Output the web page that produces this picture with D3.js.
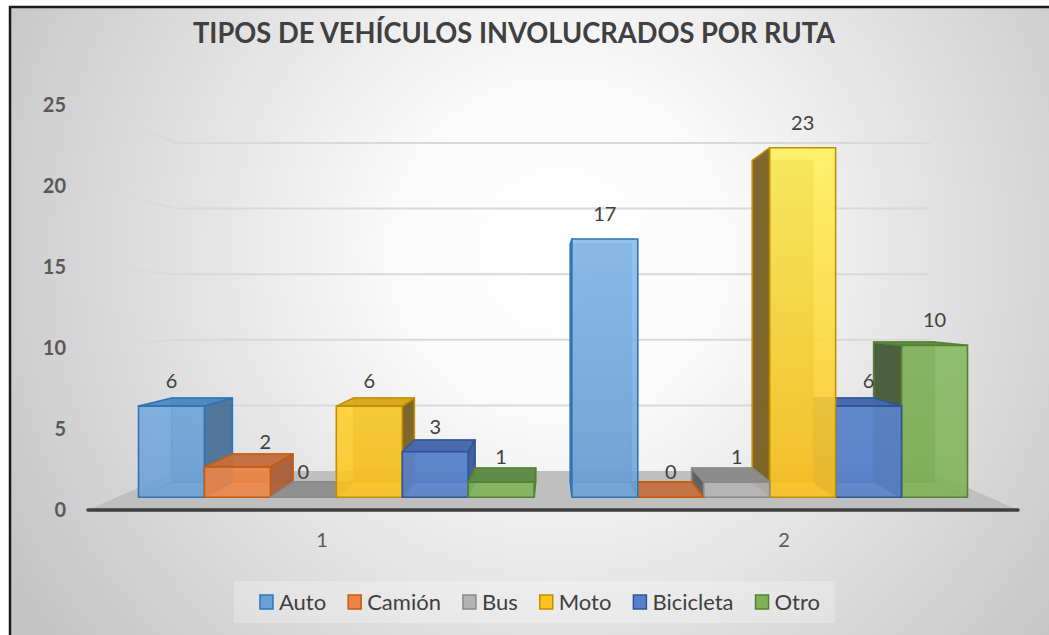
<!DOCTYPE html>
<html>
<head>
<meta charset="utf-8">
<script src="https://cdn.jsdelivr.net/npm/d3@7"></script>
<style>
  html, body { margin: 0; padding: 0; background: #ffffff; }
  svg { display: block; }
  text { font-family: Lato, "Open Sans", "Liberation Sans", sans-serif; }
</style>
</head>
<body>
<svg id="chart" width="1049" height="635"></svg>
<script>
// ---- data ----
const categories = ["1", "2"];
const series = ["Auto", "Camión", "Bus", "Moto", "Bicicleta", "Otro"];
const auto = [6, 17];
const camion = [2, 0];
const bus = [0, 1];
const moto = [6, 23];
const bicicleta = [3, 6];
const otro = [1, 10];
const yTicks = [0, 5, 10, 15, 20, 25];
const title = "TIPOS DE VEHÍCULOS INVOLUCRADOS POR RUTA";

const valuesBySeries = [auto, camion, bus, moto, bicicleta, otro];

// ---- styles per series ----
const styles = {
  "Auto":      { top: "#93c4f2", bottom: "#6aa0d6", stroke: "#2e75b6", side: "#4f7499", cap: "#4f86c0" },
  "Camión":    { top: "#f7a06a", bottom: "#ee8443", stroke: "#c55a11", side: "#a9603a", cap: "#c4703f" },
  "Bus":       { top: "#c2c2c2", bottom: "#b3b3b3", stroke: "#8a8a8a", side: "#5e5e5e", cap: "#8c8c8c" },
  "Moto":      { top: "#fff35c", bottom: "#fdc21d", stroke: "#c09000", side: "#7b6327", cap: "#d9a91a" },
  "Bicicleta": { top: "#6d96dc", bottom: "#5580cc", stroke: "#2f5597", side: "#3f5f97", cap: "#4668ad" },
  "Otro":      { top: "#90c26c", bottom: "#7fb255", stroke: "#548235", side: "#4a5d3a", cap: "#5f8d44" }
};
// label shifted sideways so it clears the neighbouring column
const labelNudge = { "Camión|1": 28 };

// ---- perspective setup ----
const W = 1049, H = 635;
const vx = 553, vy = 305;          // vanishing point
const sWall = 0.81;                // depth of back wall / floor back edge
const sFront = 0.938;              // depth of column fronts
const sBack = 0.863;               // depth of column backs

const svg = d3.select("#chart");

const y = d3.scaleLinear().domain([0, 25]).range([510, 105]);
const x0 = d3.scaleBand().domain(categories).range([88, 1018])
  .paddingInner(0.087).paddingOuter(0.05);
const x1 = d3.scaleBand().domain(series).range([0, x0.bandwidth()]);

function proj(xf, yf, s) {
  return [vx + (xf - vx) * s, vy + (yf - vy) * s];
}

// ---- defs ----
const defs = svg.append("defs");
const bg = defs.append("radialGradient").attr("id", "bg")
  .attr("gradientUnits", "userSpaceOnUse")
  .attr("cx", 560).attr("cy", 250).attr("r", 640);
bg.append("stop").attr("offset", "0%").attr("stop-color", "#ffffff");
bg.append("stop").attr("offset", "25%").attr("stop-color", "#fbfbfb");
bg.append("stop").attr("offset", "100%").attr("stop-color", "#c4c4c4");

const sideFade = defs.append("linearGradient").attr("id", "sideFade")
  .attr("gradientUnits", "userSpaceOnUse").attr("x1", 88).attr("x2", 178).attr("y1", 0).attr("y2", 0);
sideFade.append("stop").attr("offset", "0%").attr("stop-color", "#d9d9d9").attr("stop-opacity", 0.25);
sideFade.append("stop").attr("offset", "100%").attr("stop-color", "#d9d9d9").attr("stop-opacity", 1);

series.forEach((s, i) => {
  const g = defs.append("linearGradient").attr("id", "grad" + i)
    .attr("gradientUnits", "userSpaceOnUse")
    .attr("x1", 0).attr("x2", 0).attr("y1", 140).attr("y2", 500);
  g.append("stop").attr("offset", "0%").attr("stop-color", styles[s].top);
  g.append("stop").attr("offset", "100%").attr("stop-color", styles[s].bottom);
});

// ---- background and frame ----
svg.append("rect").attr("x", 0).attr("y", 0).attr("width", W).attr("height", H).attr("fill", "#ffffff");
svg.append("rect").attr("x", 10).attr("y", 7).attr("width", W + 20).attr("height", H + 20)
  .attr("fill", "url(#bg)").attr("stroke", "#1a1a1a").attr("stroke-width", 2.5);

// ---- title ----
svg.append("text")
  .attr("x", 514).attr("y", 43)
  .attr("text-anchor", "middle")
  .attr("font-size", 28).attr("font-weight", 700)
  .attr("fill", "#404040")
  .attr("textLength", 642).attr("lengthAdjust", "spacingAndGlyphs")
  .text(title);

// ---- gridlines: left side wall + back wall ----
const grid = svg.append("g");
const leftFront = x0.range()[0];
const wallL = proj(leftFront, 0, sWall)[0];
const wallR = proj(x0.range()[1], 0, sWall)[0];
yTicks.filter(t => t > 0).forEach(t => {
  const pw = proj(leftFront, y(t), sWall);
  grid.append("line")
    .attr("x1", leftFront).attr("y1", y(t)).attr("x2", pw[0]).attr("y2", pw[1])
    .attr("stroke", "url(#sideFade)").attr("stroke-width", 2);
  grid.append("line")
    .attr("x1", wallL).attr("y1", pw[1]).attr("x2", wallR).attr("y2", pw[1])
    .attr("stroke", "#d9d9d9").attr("stroke-width", 2);
});

// ---- floor ----
const fl = [
  [x0.range()[0], y(0)], [x0.range()[1], y(0)],
  proj(x0.range()[1], y(0), sWall), proj(x0.range()[0], y(0), sWall)
];
svg.append("polygon").attr("points", fl.map(p => p.join(",")).join(" "))
  .attr("fill", "#bfbfbf");
svg.append("line")
  .attr("x1", x0.range()[0]).attr("x2", x0.range()[1])
  .attr("y1", y(0)).attr("y2", y(0))
  .attr("stroke", "#3f3f3f").attr("stroke-width", 3.5).attr("stroke-linecap", "round");

// ---- y tick labels ----
svg.append("g").selectAll("text").data(yTicks).join("text")
  .attr("x", 66).attr("y", d => y(d) + 7)
  .attr("text-anchor", "end")
  .attr("font-size", 20).attr("font-weight", 700)
  .attr("fill", "#595959")
  .text(d => d);

// ---- category labels ----
svg.append("g").selectAll("text").data(categories).join("text")
  .attr("x", d => x0(d) + x0.bandwidth() / 2)
  .attr("y", 547)
  .attr("text-anchor", "middle")
  .attr("font-size", 20)
  .attr("fill", "#595959")
  .text(d => d);

// ---- 3D columns ----
const bars = [];
categories.forEach((c, ci) => {
  series.forEach((s, si) => {
    const v = valuesBySeries[si][ci];
    const xl = x0(c) + x1(s);
    const xr = xl + x1.bandwidth();
    bars.push({ c, s, si, v, xl, xr, dist: Math.abs((xl + xr) / 2 - vx) });
  });
});
bars.sort((a, b) => b.dist - a.dist);

const pts = arr => arr.map(p => p.join(",")).join(" ");
const barLayer = svg.append("g");

bars.forEach(b => {
  const st = styles[b.s];
  const yb = y(0), yt = y(b.v);
  const F = {
    lb: proj(b.xl, yb, sFront), rb: proj(b.xr, yb, sFront),
    lt: proj(b.xl, yt, sFront), rt: proj(b.xr, yt, sFront)
  };
  const B = {
    lb: proj(b.xl, yb, sBack), rb: proj(b.xr, yb, sBack),
    lt: proj(b.xl, yt, sBack), rt: proj(b.xr, yt, sBack)
  };
  const g = barLayer.append("g");
  const strokeW = 1.6;

  // back face
  g.append("polygon").attr("points", pts([B.lb, B.rb, B.rt, B.lt]))
    .attr("fill", st.side).attr("fill-opacity", 0.55)
    .attr("stroke", st.stroke).attr("stroke-width", strokeW).attr("stroke-opacity", 0.6);
  // inner bottom edges
  g.append("polyline").attr("points", pts([F.lb, B.lb, B.rb, F.rb]))
    .attr("fill", "none").attr("stroke", st.stroke).attr("stroke-opacity", 0.5).attr("stroke-width", 1.2);

  // visible side face
  const leftOfCenter = (b.xl + b.xr) / 2 < vx;
  const side = leftOfCenter
    ? [F.rb, B.rb, B.rt, F.rt]
    : [F.lb, B.lb, B.lt, F.lt];
  g.append("polygon").attr("points", pts(side))
    .attr("fill", st.side).attr("fill-opacity", 0.95)
    .attr("stroke", st.stroke).attr("stroke-width", strokeW).attr("stroke-linejoin", "round");

  // top face (seen from above when below the eye line)
  if (F.lt[1] >= B.lt[1]) {
    g.append("polygon").attr("points", pts([F.lt, F.rt, B.rt, B.lt]))
      .attr("fill", st.cap).attr("fill-opacity", 0.95)
      .attr("stroke", st.stroke).attr("stroke-width", strokeW).attr("stroke-linejoin", "round");
  }

  // front face
  if (b.v > 0) {
    g.append("polygon").attr("points", pts([F.lb, F.rb, F.rt, F.lt]))
      .attr("fill", "url(#grad" + b.si + ")").attr("fill-opacity", 0.88)
      .attr("stroke", st.stroke).attr("stroke-width", strokeW).attr("stroke-linejoin", "round");
  }
});

// ---- data labels ----
const labelLayer = svg.append("g");
bars.forEach(b => {
  const cx = (b.xl + b.xr) / 2;
  const p = proj(cx, y(b.v), sFront);
  labelLayer.append("text")
    .attr("x", p[0] + (labelNudge[b.s + "|" + b.c] || 0))
    .attr("y", p[1] - 18)
    .attr("text-anchor", "middle")
    .attr("font-size", 20)
    .attr("fill", "#404040")
    .text(b.v);
});

// ---- legend ----
const legend = svg.append("g");
legend.append("rect").attr("x", 234).attr("y", 581).attr("width", 601).attr("height", 42)
  .attr("fill", "#ffffff").attr("fill-opacity", 0.25);
const items = legend.selectAll("g.item").data(series).join("g").attr("class", "item");
items.append("rect")
  .attr("width", 13).attr("height", 14).attr("y", 595)
  .attr("fill", (d, i) => "url(#grad" + i + ")")
  .attr("stroke", d => styles[d].stroke).attr("stroke-width", 1.5);
items.append("text")
  .attr("y", 610)
  .attr("font-size", 22)
  .attr("fill", "#404040")
  .text(d => d);
const widths = [];
items.select("text").each(function () { widths.push(this.getComputedTextLength()); });
const boxW = 13, boxGap = 6, itemGap = 22;
const total = d3.sum(widths) + series.length * (boxW + boxGap) + (series.length - 1) * itemGap;
let cur = 540 - total / 2;
items.each(function (d, i) {
  const gi = d3.select(this);
  gi.select("rect").attr("x", cur);
  gi.select("text").attr("x", cur + boxW + boxGap);
  cur += boxW + boxGap + widths[i] + itemGap;
});
</script>
</body>
</html>
